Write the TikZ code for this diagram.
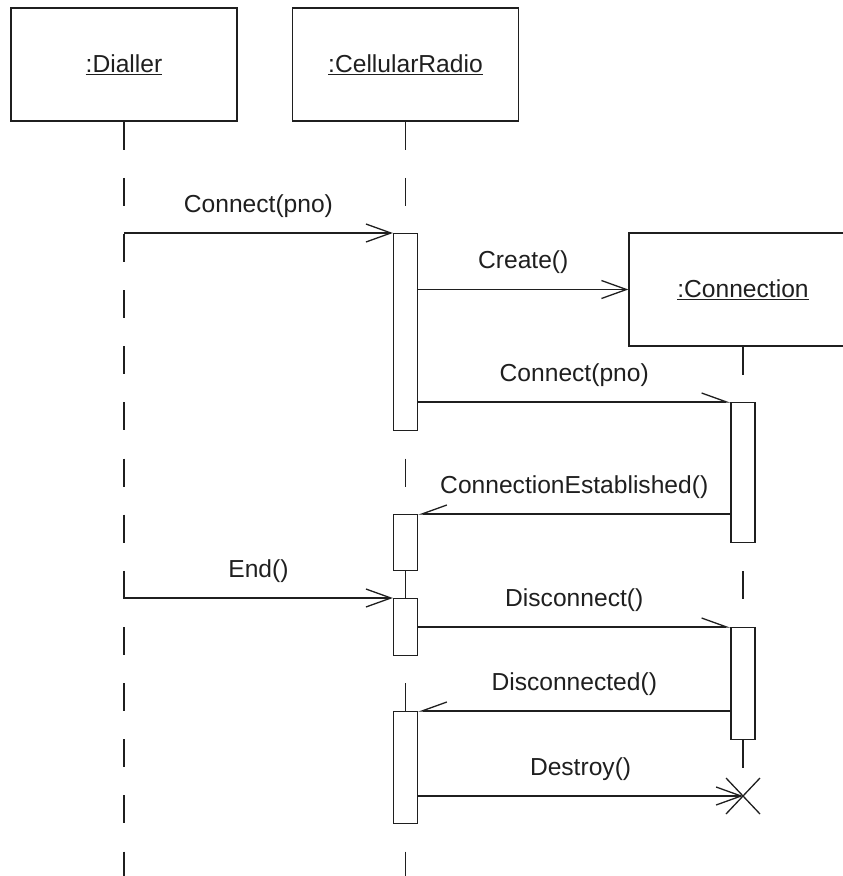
\documentclass[tikz,border=0pt]{standalone}
\usepackage{fontspec}
\setmainfont{Liberation Sans}
\usetikzlibrary{arrows.meta}
\definecolor{ink}{gray}{0.12}

\begin{document}
\begin{tikzpicture}[x=1pt, y=-1pt, line width=1.3pt, draw=ink,
  every node/.style={font=\fontsize{24.6}{29}\selectfont, text=ink},
  head/.style={draw, rectangle, minimum width=226pt, minimum height=113pt, inner sep=0pt},
  bar/.style={draw, fill=white, rectangle, minimum width=24pt, inner sep=0pt, anchor=north},
  life/.style={dash pattern=on 28pt off 28.15pt},
  call/.style={-{Straight Barb[length=25pt, width=18pt]}},
  sigright/.style={-{Straight Barb[left, length=25pt, width=18pt]}},
  sigleft/.style={-{Straight Barb[right, length=25pt, width=18pt]}},
  lbl/.style={midway, anchor=base, yshift=21pt}
]
\useasboundingbox (0,0) rectangle (843,876);
\clip (0,0) rectangle (843,876);

% object heads
\node[head] (dial) at (124,64.5) {\underline{:Dialler}};
\node[head] (cr)   at (405.5,64.5) {\underline{:CellularRadio}};
\node[head, minimum width=228pt] (conn) at (743,289.5) {\underline{:Connection}};

% lifeline ends
\coordinate (dend) at (124,876);
\coordinate (crend) at (405.5,876);
\coordinate (x) at (743,796);
\coordinate (d1) at (124,233);
\coordinate (d2) at (124,598);

% lifelines
\draw[life] (dial.south) -- (dend);
\draw[life] (cr.south) -- (crend);
\draw[life] (conn.south) -- (x);

% activation bars
\node[bar, minimum height=197pt] (r1) at (405.5,233) {};
\node[bar, minimum height=56pt]  (r2) at (405.5,514) {};
\node[bar, minimum height=57pt]  (r3) at (405.5,598) {};
\node[bar, minimum height=112pt] (r4) at (405.5,711) {};
\node[bar, minimum height=140pt] (c1) at (743,402) {};
\node[bar, minimum height=112pt] (c2) at (743,627) {};

% messages
\draw[call] (d1) -- (r1.north west) node[lbl] {Connect(pno)};
\draw[call] (r1.east |- conn.west) -- (conn.west) node[lbl] {Create()};
\draw[sigright] (r1.east |- c1.north) -- (c1.north west) node[lbl] {Connect(pno)};
\draw[sigleft] (c1.west |- r2.north) -- (r2.north east) node[lbl] {ConnectionEstablished()};
\draw[call] (d2) -- (r3.north west) node[lbl] {End()};
\draw[sigright] (r3.east |- c2.north) -- (c2.north west) node[lbl] {Disconnect()};
\draw[sigleft] (c2.west |- r4.north) -- (r4.north east) node[lbl] {Disconnected()};
\draw[call] (r4.east |- x) -- (x) node[lbl] {Destroy()};

% destruction mark
\draw ([shift={(-17,-18)}]x) -- ([shift={(17,18)}]x);
\draw ([shift={(-17,18)}]x) -- ([shift={(17,-18)}]x);
\end{tikzpicture}
\end{document}
